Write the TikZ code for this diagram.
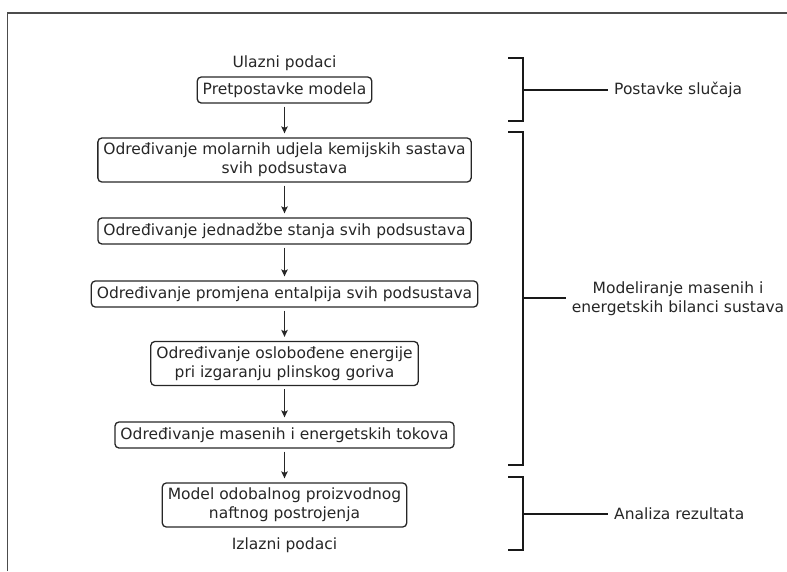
\documentclass[tikz,border=0pt]{standalone}
\usepackage{fontspec}
\setmainfont{DejaVu Sans}
\usetikzlibrary{arrows.meta}
\begin{document}
\begin{tikzpicture}[x=1pt,y=-1pt,
  every node/.style={font=\fontsize{15.5}{19}\selectfont, text=black!85},
  stepbox/.style={draw=black!85, line width=1.3pt, rounded corners=4pt, align=center,
    inner xsep=5.5pt, inner ysep=2pt},
  onebox/.style={stepbox, minimum height=26pt},
  twobox/.style={stepbox, minimum height=44pt},
  flow/.style={draw=black!85, line width=1.2pt, -{Stealth[length=7pt,width=6.5pt,inset=1.5pt]},
    shorten <=3pt, shorten >=4pt},
  brace/.style={draw=black!90, line width=1.6pt},
  tag/.style={anchor=west, inner sep=0pt},
  frame/.style={draw=black!70, line width=1.3pt}]
\useasboundingbox (0,0) rectangle (787,571);
\draw[frame] (7.5,571) -- (7.5,13) -- (787,13);

\node (in) at (284.5,63) {Ulazni podaci};
\node[onebox] (b1) at (284.5,90) {Pretpostavke modela};
\node[twobox] (b2) at (284.5,160) {Određivanje molarnih udjela kemijskih sastava\\svih podsustava};
\node[onebox] (b3) at (284.5,231) {Određivanje jednadžbe stanja svih podsustava};
\node[onebox] (b4) at (284.5,294) {Određivanje promjena entalpija svih podsustava};
\node[twobox] (b5) at (284.5,363.5) {Određivanje oslobođene energije\\pri izgaranju plinskog goriva};
\node[onebox] (b6) at (284.5,435) {Određivanje masenih i energetskih tokova};
\node[twobox] (b7) at (284.5,505) {Model odobalnog proizvodnog\\naftnog postrojenja};
\node (out) at (284.5,545) {Izlazni podaci};

\draw[flow] (b1) -- (b2);
\draw[flow] (b2) -- (b3);
\draw[flow] (b3) -- (b4);
\draw[flow] (b4) -- (b5);
\draw[flow] (b5) -- (b6);
\draw[flow] (b6) -- (b7);

% brackets
\coordinate (m1) at (608,90);
\coordinate (m2) at (566,298);
\coordinate (m3) at (608,514);
\draw[brace] (508,58) -- (523,58) -- (523,121) -- (508,121);
\draw[brace] (523,90) -- (m1);
\node[tag] (t1) at (614,90) {Postavke slučaja};

\draw[brace] (508,132) -- (523,132) -- (523,465) -- (508,465);
\draw[brace] (523,298) -- (m2);
\node[align=center, inner sep=0pt] (t2) at (678,299) {Modeliranje masenih i\\energetskih bilanci sustava};

\draw[brace] (508,477) -- (523,477) -- (523,550) -- (508,550);
\draw[brace] (523,514) -- (m3);
\node[tag] (t3) at (614,514) {Analiza rezultata};
\end{tikzpicture}
\end{document}
